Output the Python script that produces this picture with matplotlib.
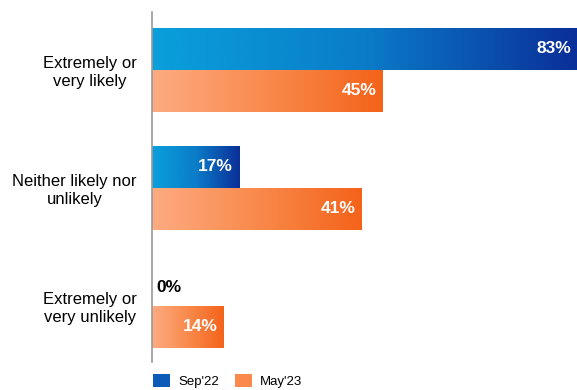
import numpy as np
import matplotlib.pyplot as plt
from matplotlib.colors import LinearSegmentedColormap
from matplotlib.patches import Patch

plt.rcParams['font.family'] = ['Liberation Sans', 'DejaVu Sans']

categories = ["Extremely or\nvery likely", "Neither likely nor\nunlikely", "Extremely or\nvery unlikely"]
sep22 = [83, 17, 0]
may23 = [45, 41, 14]
series_names = ["Sep'22", "May'23"]

blue_cmap = LinearSegmentedColormap.from_list("b", ["#0aa0dc", "#0a7cc8", "#0b2f98"])
orange_cmap = LinearSegmentedColormap.from_list("o", ["#fdab82", "#f98a4c", "#f4631a"])

fig = plt.figure(figsize=(5.77, 3.90), dpi=100)
ax = fig.add_axes([152 / 577, 1 - 362 / 390, 425 / 577, 350 / 390])

y = np.arange(len(categories))
h = 0.355
grad = np.linspace(0, 1, 256).reshape(1, -1)

bars_a = ax.barh(y - h / 2, sep22, height=h, color='none')
bars_b = ax.barh(y + h / 2, may23, height=h, color='none')

for bars, cmap in ((bars_a, blue_cmap), (bars_b, orange_cmap)):
    for b in bars:
        w = b.get_width()
        if w <= 0:
            continue
        y0 = b.get_y()
        ax.imshow(grad, cmap=cmap, aspect='auto', interpolation='bicubic',
                  extent=[0, w, y0 + b.get_height(), y0], zorder=2)

for bars in (bars_a, bars_b):
    for b in bars:
        w = b.get_width()
        yc = b.get_y() + b.get_height() / 2
        if w > 0:
            ax.text(w - 1.2, yc, f"{w:.0f}%", ha='right', va='center',
                    color='white', fontsize=12.5, fontweight='bold', zorder=3)
        else:
            ax.text(0.8, yc + 0.02, f"{w:.0f}%", ha='left', va='center',
                    color='black', fontsize=12.5, fontweight='bold', zorder=3)

ax.set_xlim(0, 83)
ax.set_ylim(2.475, -0.49)
ax.set_yticks(y)
ax.set_yticklabels(categories, fontsize=12, multialignment='center')
ax.tick_params(axis='y', length=0, pad=11)
ax.set_xticks([])
for s in ('top', 'right', 'bottom'):
    ax.spines[s].set_visible(False)
ax.spines['left'].set_color('#9a9a9a')
ax.spines['left'].set_linewidth(1.2)

handles = [Patch(facecolor='#0a5cb8'), Patch(facecolor='#f98a4c')]
fig.legend(handles, series_names, loc='lower left', bbox_to_anchor=(141 / 577, -0.025),
           ncol=2, frameon=False, fontsize=9.5, handlelength=1.3, handleheight=1.1,
           handletextpad=0.6, columnspacing=1.2)

fig.savefig("out.png", dpi=100)
